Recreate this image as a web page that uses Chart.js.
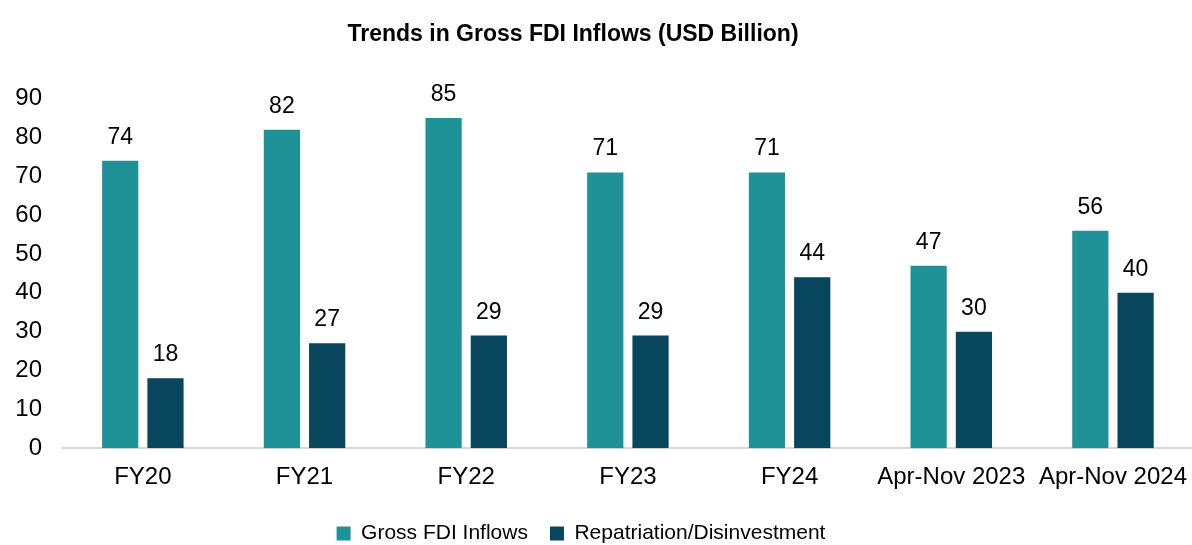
<!DOCTYPE html>
<html lang="en">
<head>
    <meta charset="UTF-8">
    <title>Trends in Gross FDI Inflows</title>
    <script src="https://cdn.jsdelivr.net/npm/chart.js"></script>
    <style>
        html, body {
            margin: 0;
            padding: 0;
            background: white;
            overflow: hidden;
        }
        .chart-box {
            position: relative;
            width: 1202px;
            height: 545px;
        }
    </style>
</head>
<body>
    <div class="chart-box">
        <canvas id="fdiChart"></canvas>
    </div>
    <script>
        const categories = ["FY20", "FY21", "FY22", "FY23", "FY24", "Apr-Nov 2023", "Apr-Nov 2024"];
        const grossInflows = [74, 82, 85, 71, 71, 47, 56];
        const repatriation = [18, 27, 29, 29, 44, 30, 40];
        const yTicks = [0, 10, 20, 30, 40, 50, 60, 70, 80, 90];

        const FONT = "'Liberation Sans', Arial, sans-serif";

        // value labels above each bar
        const barLabels = {
            id: 'barLabels',
            afterDatasetsDraw(chart) {
                const ctx = chart.ctx;
                ctx.save();
                ctx.font = "23px " + FONT;
                ctx.fillStyle = "#000";
                ctx.textAlign = "center";
                ctx.textBaseline = "alphabetic";
                chart.data.datasets.forEach((ds, i) => {
                    chart.getDatasetMeta(i).data.forEach((bar, j) => {
                        ctx.fillText(ds.data[j], bar.x, bar.y - 17);
                    });
                });
                ctx.restore();
            }
        };

        // nudge title and legend to where the original sits
        const shiftBlocks = {
            id: 'shiftBlocks',
            afterLayout(chart) {
                if (chart.titleBlock) {
                    chart.titleBlock.left -= 28;
                    chart.titleBlock.right -= 28;
                }
                if (chart.legend) {
                    chart.legend.left -= 20;
                    chart.legend.right -= 20;
                    chart.legend.top -= 6;
                    chart.legend.bottom -= 6;
                }
            }
        };

        new Chart(document.getElementById('fdiChart'), {
            type: 'bar',
            data: {
                labels: categories,
                datasets: [
                    {
                        label: 'Gross FDI Inflows',
                        data: grossInflows,
                        backgroundColor: '#1F9297',
                        borderWidth: 0,
                        barPercentage: 0.8,
                        categoryPercentage: 0.56
                    },
                    {
                        label: 'Repatriation/Disinvestment',
                        data: repatriation,
                        backgroundColor: '#07465D',
                        borderWidth: 0,
                        barPercentage: 0.8,
                        categoryPercentage: 0.56
                    }
                ]
            },
            options: {
                responsive: true,
                maintainAspectRatio: false,
                animation: false,
                layout: { padding: { left: 0, right: 0, top: 0, bottom: -15 } },
                plugins: {
                    title: {
                        display: true,
                        text: 'Trends in Gross FDI Inflows (USD Billion)',
                        color: '#000',
                        font: { family: FONT, size: 23, weight: 'bold' },
                        padding: { top: 21, bottom: 50 }
                    },
                    legend: {
                        position: 'bottom',
                        labels: {
                            color: '#000',
                            font: { family: FONT, size: 21 },
                            boxWidth: 14,
                            boxHeight: 14,
                            padding: 22
                        }
                    },
                    tooltip: { enabled: false }
                },
                scales: {
                    x: {
                        grid: { display: false, drawTicks: false },
                        border: { color: '#D9D9D9', width: 2 },
                        ticks: {
                            color: '#000',
                            font: { family: FONT, size: 24 },
                            padding: 15,
                            maxRotation: 0
                        }
                    },
                    y: {
                        min: 0,
                        max: 90,
                        afterBuildTicks(axis) {
                            axis.ticks = yTicks.map(v => ({ value: v }));
                        },
                        afterFit(axis) {
                            axis.width = 62;
                        },
                        grid: { display: false, drawTicks: false },
                        border: { display: false },
                        ticks: {
                            color: '#000',
                            font: { family: FONT, size: 24 },
                            padding: 20
                        }
                    }
                }
            },
            plugins: [barLabels, shiftBlocks]
        });
    </script>
</body>
</html>
